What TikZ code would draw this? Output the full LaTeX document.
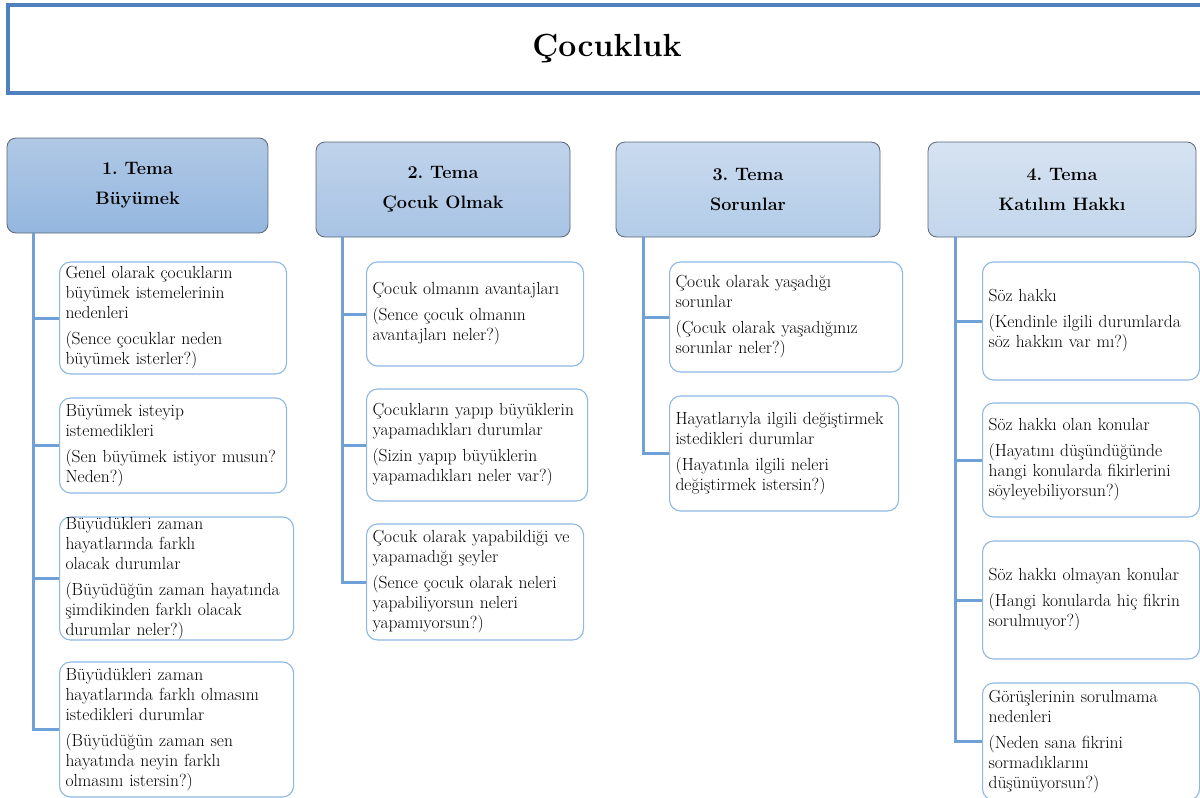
\documentclass[tikz,border=0pt]{standalone}
\definecolor{cizgi}{HTML}{6FA1D8}
\definecolor{kenar}{HTML}{8CB8E4}
\definecolor{baslikmavi}{HTML}{4F81BD}
\definecolor{temakenar}{HTML}{5B6675}
\definecolor{hAust}{HTML}{B0C8E5}
\definecolor{hAalt}{HTML}{94B7DF}
\definecolor{hBust}{HTML}{C0D3EB}
\definecolor{hBalt}{HTML}{A8C3E4}
\definecolor{hCust}{HTML}{C9DAEE}
\definecolor{hCalt}{HTML}{B3CCE8}
\definecolor{hDust}{HTML}{D6E3F1}
\definecolor{hDalt}{HTML}{C3D6EC}
\frenchspacing

\begin{document}
\begin{tikzpicture}[x=1pt,y=-1pt,
 tema/.style={draw=temakenar,rounded corners=9pt,line width=0.8pt,align=center,minimum height=95pt,font=\fontsize{18}{30}\selectfont\bfseries},
 konu/.style={draw=kenar,rounded corners=11pt,fill=white,line width=1.1pt,align=left,anchor=west,inner xsep=6pt,inner ysep=0pt,text=black,font=\fontsize{17.5}{20}\selectfont},
 hat/.style={draw=cizgi,line width=3pt}]
\useasboundingbox (0,0) rectangle (1200,798);
\node[draw=baslikmavi,line width=3.5pt,minimum width=1198pt,minimum height=88pt,font=\fontsize{32}{38}\selectfont\bfseries] (baslik) at (607,49) {Çocukluk};
%
\node[tema,minimum width=261pt,top color=hAust,bottom color=hAalt] (h1) at (137.5,185.5) {1. Tema\\Büyümek};
\node[tema,minimum width=254pt,top color=hBust,bottom color=hBalt] (h2) at (443,189.5) {2. Tema\\Çocuk Olmak};
\node[tema,minimum width=264pt,top color=hCust,bottom color=hCalt] (h3) at (748,189.5) {3. Tema\\Sorunlar};
\node[tema,minimum width=268pt,top color=hDust,bottom color=hDalt] (h4) at (1062,189.5) {4. Tema\\Katılım Hakkı};
%%
\node[konu,text width=215pt,minimum height=112pt] (c11) at (59,318) {Genel olarak çocukların\\büyümek istemelerinin\\nedenleri\\[6pt](Sence çocuklar neden\\büyümek isterler?)};
\node[konu,text width=215pt,minimum height=95pt] (c12) at (59,445.5) {Büyümek isteyip\\istemedikleri\\[6pt](Sen büyümek istiyor musun?\\Neden?)};
\node[konu,text width=222pt,minimum height=123pt] (c13) at (59,578.5) {Büyüdükleri zaman\\hayatlarında farklı\\olacak durumlar\\[6pt](Büyüdüğün zaman hayatında\\şimdikinden farklı olacak\\durumlar neler?)};
\node[konu,text width=222pt,minimum height=135pt] (c14) at (59,729.5) {Büyüdükleri zaman\\hayatlarında farklı olmasını\\istedikleri durumlar\\[6pt](Büyüdüğün zaman sen\\hayatında neyin farklı\\olmasını istersin?)};
%
\node[konu,text width=205pt,minimum height=104pt] (c21) at (366,314) {Çocuk olmanın avantajları\\[6pt](Sence çocuk olmanın\\avantajları neler?)};
\node[konu,text width=209pt,minimum height=112pt] (c22) at (366,445) {Çocukların yapıp büyüklerin\\yapamadıkları durumlar\\[6pt](Sizin yapıp büyüklerin\\yapamadıkları neler var?)};
\node[konu,text width=205pt,minimum height=116pt] (c23) at (366,582) {Çocuk olarak yapabildiği ve\\yapamadığı şeyler\\[6pt](Sence çocuk olarak neleri\\yapabiliyorsun neleri\\yapamıyorsun?)};
%
\node[konu,text width=221pt,minimum height=110pt] (c31) at (669,317) {Çocuk olarak yaşadığı\\sorunlar\\[6pt](Çocuk olarak yaşadığınız\\sorunlar neler?)};
\node[konu,text width=217pt,minimum height=115pt] (c32) at (669,453.5) {Hayatlarıyla ilgili değiştirmek\\istedikleri durumlar\\[6pt](Hayatınla ilgili neleri\\değiştirmek istersin?)};
%
\node[konu,text width=205pt,minimum height=118pt] (c41) at (982,321) {Söz hakkı\\[6pt](Kendinle ilgili durumlarda\\söz hakkın var mı?)};
\node[konu,text width=205pt,minimum height=114pt] (c42) at (982,460) {Söz hakkı olan konular\\[6pt](Hayatını düşündüğünde\\hangi konularda fikirlerini\\söyleyebiliyorsun?)};
\node[konu,text width=205pt,minimum height=118pt] (c43) at (982,600) {Söz hakkı olmayan konular\\[6pt](Hangi konularda hiç fikrin\\sorulmuyor?)};
\node[konu,text width=205pt,minimum height=117pt] (c44) at (982,741.5) {Görüşlerinin sorulmama\\nedenleri\\[6pt](Neden sana fikrini\\sormadıklarını\\düşünüyorsun?)};
%%
\coordinate (s1) at (33,233);
\coordinate (s2) at (342,237);
\coordinate (s3) at (643,237);
\coordinate (s4) at (955,237);
\draw[hat] (s1) |- (c11.west) (s1) |- (c12.west) (s1) |- (c13.west) (s1) |- (c14.west)
 (s2) |- (c21.west) (s2) |- (c22.west) (s2) |- (c23.west)
 (s3) |- (c31.west) (s3) |- (c32.west)
 (s4) |- (c41.west) (s4) |- (c42.west) (s4) |- (c43.west) (s4) |- (c44.west);
\end{tikzpicture}
\end{document}
